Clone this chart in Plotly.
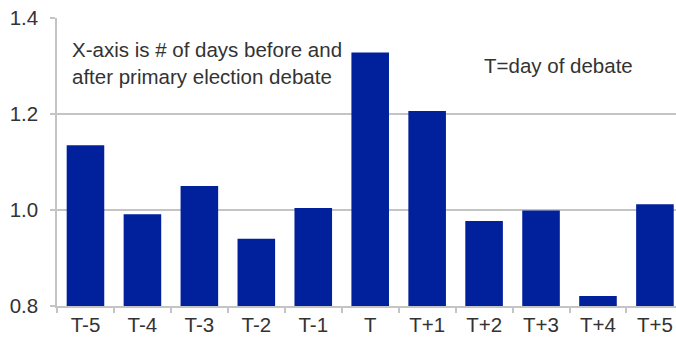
import plotly.graph_objects as go

categories = ["T-5", "T-4", "T-3", "T-2", "T-1", "T", "T+1", "T+2", "T+3", "T+4", "T+5"]
values = [1.135, 0.991, 1.05, 0.94, 1.004, 1.328, 1.206, 0.977, 0.999, 0.821, 1.012]

BAR = "#00209c"
GRID = "#c4c4c4"
TXT = "#333333"
FONT = "Liberation Sans, Arial, sans-serif"
FS = 20.5

fig = go.Figure()
fig.add_trace(go.Bar(x=categories, y=values, base=0, marker=dict(color=BAR, line=dict(width=0)), width=0.66))

fig.update_layout(
    width=676, height=341,
    margin=dict(l=57, r=0, t=18, b=35),
    paper_bgcolor="white", plot_bgcolor="white",
    showlegend=False,
    font=dict(family=FONT, size=FS, color=TXT),
    xaxis=dict(
        type="category", range=[-0.5, 10.37],
        showgrid=False, showline=True, linecolor=GRID, linewidth=1.5,
        ticks="outside", ticklen=5, tickcolor=GRID, tickwidth=1.5, tickson="boundaries",
        tickfont=dict(size=FS, color=TXT),
    ),
    yaxis=dict(
        range=[0.8, 1.4], dtick=0.2, tick0=0.8, tickformat=".1f",
        showgrid=True, gridcolor=GRID, gridwidth=1.5,
        showline=True, linecolor=GRID, linewidth=1.5,
        ticks="outside", ticklen=5, tickcolor=GRID, tickwidth=1.5,
        ticklabelstandoff=8,
        zeroline=False, tickfont=dict(size=FS, color=TXT),
    ),
    annotations=[
        dict(x=-0.28, y=1.306, xref="x", yref="y", xanchor="left", yanchor="middle",
             text="X-axis is # of days before and<br>after primary election debate",
             showarrow=False, align="left", font=dict(size=FS, color=TXT)),
        dict(x=8.30, y=1.302, xref="x", yref="y", xanchor="center", yanchor="middle",
             text="T=day of debate", showarrow=False, font=dict(size=FS, color=TXT)),
    ],
)

fig.write_html("out.html")
